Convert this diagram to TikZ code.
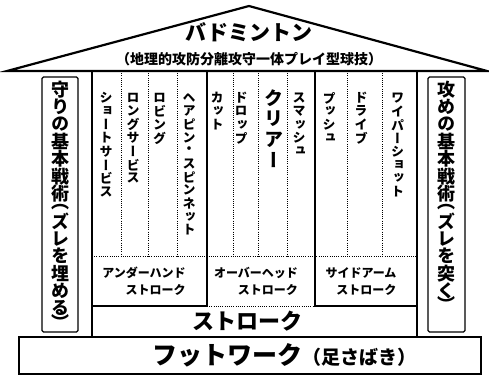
\documentclass[tikz,border=0pt]{standalone}
\usepackage{fontspec}
\setmainfont{Noto Sans CJK JP}
\newfontfamily\vjp[RawFeature=+vert]{Noto Sans CJK JP}
\newdimen\vtp
\newdimen\vtw
\def\vtslot#1#2{\vbox to #1\vtp{\vss\hbox to \vtw{\hss#2\hss}\vss}}
\def\vtchar#1{\ifx#1（\vtslot{0.6}{#1}\else\ifx#1）\vtslot{0.6}{#1}\else\vtslot{1}{#1}\fi\fi}
\let\vtend\relax
\def\vtloop#1{\ifx#1\vtend\else\vtchar{#1}\expandafter\vtloop\fi}
\newcommand\vlabel[3]{{\vjp\bfseries\fontsize{#1}{#1}\selectfont\vtp=#2pt\vtw=1em
 \vbox{\offinterlineskip\vtloop#3\vtend}}}
\tikzset{
  heavy/.style={line width=2.2pt},
  frame/.style={line width=1.8pt},
  dotline/.style={line width=0.9pt, dash pattern=on 0.9pt off 1.3pt},
  sidebox/.style={draw, line width=1.3pt, rounded corners=1.5pt},
  vlab/.style={anchor=north, inner sep=0pt},
  grp/.style={align=right, inner sep=0pt, font=\bfseries\fontsize{12}{17}\selectfont},
}
\begin{document}
\begin{tikzpicture}[x=1pt,y=-1pt]
\useasboundingbox[fill=white] (0,0) rectangle (489,376);
% roof
\coordinate (rl) at (7,71);
\coordinate (rt) at (249,6);
\coordinate (rr) at (487,71);
\draw[heavy, line join=miter] (rl) -- (rt) -- (rr) -- cycle;
% frame
\coordinate (fl1) at (92,71); \coordinate (fl2) at (92,336);
\coordinate (fr1) at (417,71); \coordinate (fr2) at (417,336);
\draw[frame] (fl1) -- (fl2);
\draw[frame] (fr1) -- (fr2);
\coordinate (s1t) at (207,71); \coordinate (s1b) at (207,306);
\coordinate (s2t) at (315,71); \coordinate (s2b) at (315,306);
\coordinate (gl) at (92,306); \coordinate (gr) at (417,306);
\draw[frame] (s1t) -- (s1b) -- (gl);
\draw[frame] (s2t) -- (s2b) -- (gr);
\draw[dotline] (s1b) -- (s2b);
\coordinate (hl) at (92,256); \coordinate (hr) at (417,256);
\draw[dotline] (hl) -- (hr);
\foreach \x in {121,148,177,233,258,287,347,382}
  \draw[dotline] (\x,71) -- (\x,256);
% foundation
\node[draw, line width=1.8pt, minimum width=462pt, minimum height=37pt, inner sep=0pt] (found) at (250,355.5) {};
% sidebars
\node[sidebox, minimum width=36pt, minimum height=255pt, inner sep=0pt] (lbox) at (60,204.5) {};
\node[sidebox, minimum width=37pt, minimum height=255pt, inner sep=0pt] (rbox) at (446.5,204.5) {};
% titles
\node[inner sep=0pt] (title) at (249,32) {\bfseries\fontsize{21}{21}\selectfont バドミントン};
\node[inner sep=0pt] (sub) at (249,59) {\bfseries\fontsize{14}{14}\selectfont （地理的攻防分離攻守一体プレイ型球技）};
% side labels
\node[vlab] (lside) at (60,81) {\vlabel{18}{17.3}{守りの基本戦術（ズレを埋める）}};
\node[vlab] (rside) at (446.5,81) {\vlabel{18}{17.3}{攻めの基本戦術（ズレを突く）}};
% column labels
\node[vlab] (c1) at (106,91) {\vlabel{13}{13.4}{ショートサービス}};
\node[vlab] (c2) at (133,91) {\vlabel{13}{13.4}{ロングサービス}};
\node[vlab] (c3) at (159.5,91) {\vlabel{13}{13.4}{ロビング}};
\node[vlab] (c4) at (189,91) {\vlabel{13}{13.2}{ヘアピン・スピンネット}};
\node[vlab] (c5) at (217,91) {\vlabel{13}{13.4}{カット}};
\node[vlab] (c6) at (241,91) {\vlabel{13}{13.4}{ドロップ}};
\node[vlab] (c7) at (273.5,88) {\vlabel{19}{20.5}{クリアー}};
\node[vlab] (c8) at (299,91) {\vlabel{13}{13.4}{スマッシュ}};
\node[vlab] (c9) at (329,91) {\vlabel{13}{13.4}{プッシュ}};
\node[vlab] (c10) at (361,91) {\vlabel{13}{13.4}{ドライブ}};
\node[vlab] (c11) at (397.5,91) {\vlabel{13}{13.4}{ワイパーショット}};
% groups
\node[grp] (g1) at (144,281.5) {アンダーハンド\\ストローク};
\node[grp] (g2) at (256,281.5) {オーバーヘッド\\ストローク};
\node[grp] (g3) at (361,281.5) {サイドアーム\\ストローク};
% stroke
\node[inner sep=0pt] (stroke) at (247,321) {\bfseries\fontsize{22}{22}\selectfont ストローク};
% footwork
\node[inner sep=0pt, anchor=base west] (foot) at (152,364.5) {\bfseries{\fontsize{25}{25}\selectfont フットワーク}{\fontsize{19}{19}\selectfont （足さばき）}};
\end{tikzpicture}
\end{document}
